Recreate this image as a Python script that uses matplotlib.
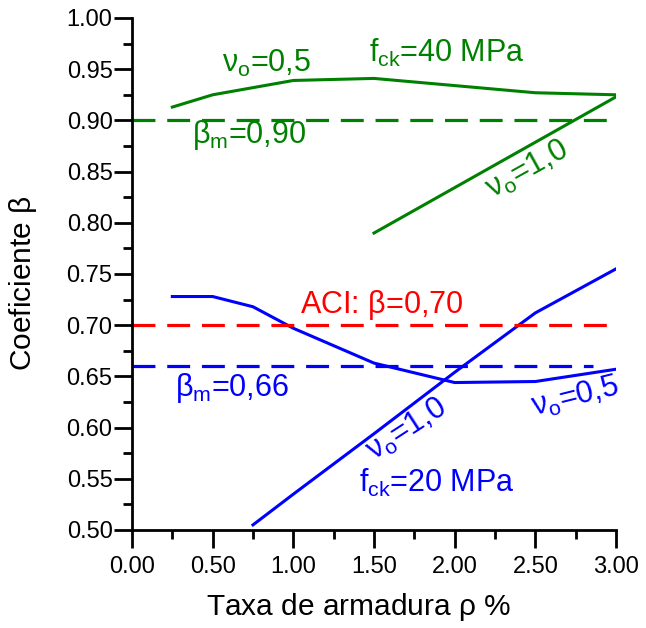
import matplotlib
matplotlib.use('Agg')
import matplotlib.pyplot as plt
from matplotlib.ticker import MultipleLocator, FormatStrFormatter

plt.rcParams['font.family'] = ['Liberation Sans', 'DejaVu Sans']
plt.rcParams['mathtext.fontset'] = 'custom'
plt.rcParams['mathtext.rm'] = 'Liberation Sans'
plt.rcParams['mathtext.it'] = 'Liberation Sans'
plt.rcParams['mathtext.bf'] = 'Liberation Sans:bold'
plt.rcParams['lines.scale_dashes'] = False

# fck = 40 MPa
rho_40_v05 = [0.25, 0.50, 1.00, 1.50, 2.00, 2.50, 3.00]
beta_40_v05 = [0.913, 0.925, 0.939, 0.941, 0.934, 0.927, 0.925]
rho_40_v10 = [1.50, 3.00]
beta_40_v10 = [0.790, 0.923]
beta_m_40 = 0.90

# fck = 20 MPa
rho_20_v05 = [0.25, 0.50, 0.75, 1.00, 1.50, 2.00, 2.50, 3.00]
beta_20_v05 = [0.728, 0.728, 0.718, 0.697, 0.663, 0.644, 0.645, 0.657]
rho_20_v10 = [0.75, 1.00, 1.50, 2.00, 2.50, 3.00]
beta_20_v10 = [0.505, 0.535, 0.594, 0.654, 0.712, 0.755]
beta_m_20 = 0.66

beta_aci = 0.70

green = '#008000'
blue = '#0000ff'
red = '#ff0000'
dash = (16.5, 8.5)

fig = plt.figure(figsize=(6.46, 6.28), dpi=100)
ax = fig.add_axes([132 / 646, 98 / 628, 484 / 646, 512 / 628])

ax.plot(rho_40_v05, beta_40_v05, color=green, lw=2.2)
ax.plot(rho_40_v10, beta_40_v10, color=green, lw=2.2)
ax.plot([0, 3.0], [beta_m_40] * 2, color=green, lw=2.3, dashes=dash)

ax.plot(rho_20_v05, beta_20_v05, color=blue, lw=2.2)
ax.plot(rho_20_v10, beta_20_v10, color=blue, lw=2.2)
ax.plot([0, 2.86], [beta_m_20] * 2, color=blue, lw=2.3, dashes=dash)

ax.plot([0, 3.0], [beta_aci] * 2, color=red, lw=2.3, dashes=dash)

fs = 22
# green labels
ax.text(0.557, 0.9476, r'$\nu_o$=0,5', color=green, fontsize=fs)
ax.text(1.468, 0.9573, r'$f_{ck}$=40 MPa', color=green, fontsize=fs)
ax.text(0.371, 0.8776, r'$\beta_m$=0,90', color=green, fontsize=fs)
ax.text(2.45, 0.852, r'$\nu_o$=1,0', color=green, fontsize=fs,
        rotation=29, ha='center', va='center', rotation_mode='anchor')

# red label
ax.text(1.043, 0.7122, r'ACI: $\beta$=0,70', color=red, fontsize=fs)

# blue labels
ax.text(0.267, 0.6309, r'$\beta_m$=0,66', color=blue, fontsize=fs)
ax.text(2.75, 0.630, r'$\nu_o$=0,5', color=blue, fontsize=fs,
        rotation=14, ha='center', va='center', rotation_mode='anchor')
ax.text(1.706, 0.598, r'$\nu_o$=1,0', color=blue, fontsize=fs,
        rotation=33, ha='center', va='center', rotation_mode='anchor')
ax.text(1.406, 0.5374, r'$f_{ck}$=20 MPa', color=blue, fontsize=fs)

ax.set_xlim(0, 3.0)
ax.set_ylim(0.50, 1.00)
ax.spines['top'].set_visible(False)
ax.spines['right'].set_visible(False)
for s in ('left', 'bottom'):
    ax.spines[s].set_linewidth(2.0)

ax.xaxis.set_major_locator(MultipleLocator(0.5))
ax.xaxis.set_minor_locator(MultipleLocator(0.25))
ax.yaxis.set_major_locator(MultipleLocator(0.05))
ax.yaxis.set_minor_locator(MultipleLocator(0.025))
ax.xaxis.set_major_formatter(FormatStrFormatter('%.2f'))
ax.yaxis.set_major_formatter(FormatStrFormatter('%.2f'))
ax.tick_params(which='major', length=13, width=2.0, labelsize=17)
ax.tick_params(which='minor', length=6.5, width=2.0)
ax.tick_params(axis='y', which='major', pad=1)
ax.tick_params(axis='x', which='major', pad=6)

ax.set_xlabel(r'Taxa de armadura $\rho$ %', fontsize=21.5, va='center')
ax.xaxis.set_label_coords(0.468, -0.150)
ax.set_ylabel(r'Coeficiente $\beta$', fontsize=21.5, va='center')
ax.yaxis.set_label_coords(-0.226, 0.483)

fig.savefig('out.png', dpi=100)
